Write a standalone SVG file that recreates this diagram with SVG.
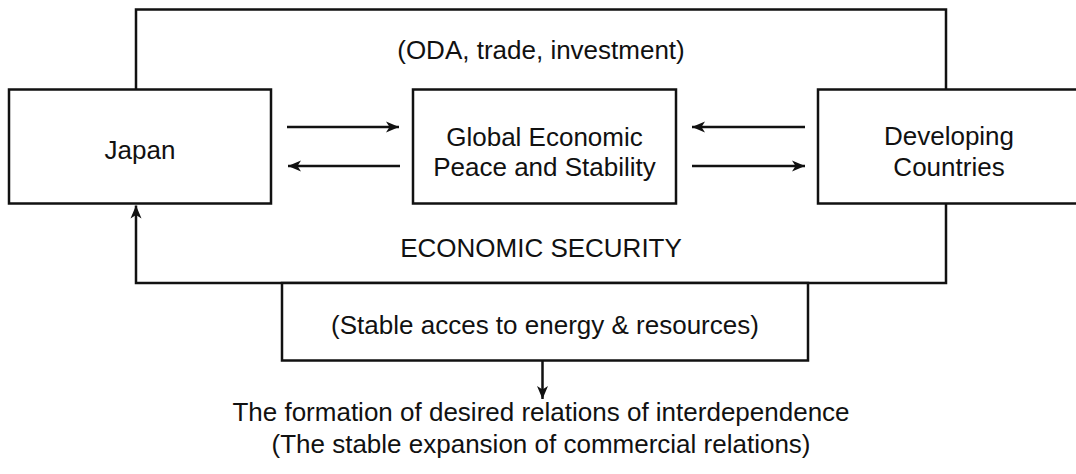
<svg xmlns="http://www.w3.org/2000/svg" width="1076" height="474" viewBox="0 0 1076 474">
<style>
.box{fill:#fff;stroke:#111;stroke-width:2.5}
.ln{fill:none;stroke:#111;stroke-width:2.5}
.t{font-family:"Liberation Sans",Arial,Helvetica,sans-serif;font-size:26px;fill:#111;text-anchor:middle}
</style>
<defs>
<marker id="ah" markerUnits="userSpaceOnUse" markerWidth="14" markerHeight="12" refX="13" refY="6" orient="auto">
<path d="M0,0.5 L13,6 L0,11.5 L3.5,6 z" fill="#111"/>
</marker>
</defs>
<rect width="1076" height="474" fill="#fff"/>
<g id="connectors">
<path class="ln" d="M136,89.5 V9.5 H946 V89.5"/>
<path class="ln" d="M946,203.5 V283 H136 V205.5" marker-end="url(#ah)"/>
<path class="ln" d="M287,127 H399" marker-end="url(#ah)"/>
<path class="ln" d="M400,166 H288" marker-end="url(#ah)"/>
<path class="ln" d="M805,127 H692" marker-end="url(#ah)"/>
<path class="ln" d="M692,166 H805" marker-end="url(#ah)"/>
<path class="ln" d="M542.5,360.5 V399" marker-end="url(#ah)"/>
<text class="t" x="541" y="59">(ODA, trade, investment)</text>
<text class="t" x="541" y="257">ECONOMIC SECURITY</text>
</g>
<g id="japan">
<rect class="box" x="9" y="89.5" width="262" height="114"/>
<text class="t" x="140" y="159">Japan</text>
</g>
<g id="global">
<rect class="box" x="413" y="89.5" width="263" height="114"/>
<text class="t" x="544.5" y="146">Global Economic</text>
<text class="t" x="544.5" y="176">Peace and Stability</text>
</g>
<g id="developing">
<rect class="box" x="818" y="89.5" width="262" height="114"/>
<text class="t" x="949" y="145">Developing</text>
<text class="t" x="949" y="176">Countries</text>
</g>
<g id="access">
<rect class="box" x="282" y="283" width="526" height="77.5"/>
<text class="t" x="545" y="334">(Stable acces to energy &amp; resources)</text>
</g>
<g id="outcome">
<text class="t" x="541" y="421">The formation of desired relations of interdependence</text>
<text class="t" x="541" y="453">(The stable expansion of commercial relations)</text>
</g>
</svg>
